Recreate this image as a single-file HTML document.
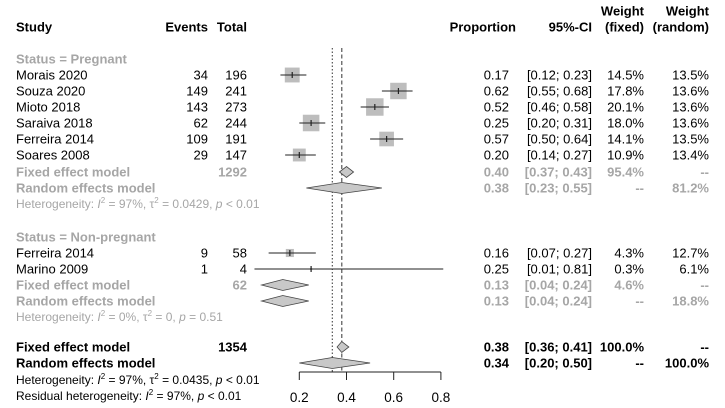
<!DOCTYPE html>
<html><head><meta charset="utf-8"><style>
html,body{margin:0;padding:0;background:#fff}
svg{display:block;font-family:"Liberation Sans",Arial,sans-serif}
</style></head><body>
<svg id="c" width="725" height="408" viewBox="0 0 725 408"></svg>
<script>
const labels=["Morais 2020","Souza 2020","Mioto 2018","Saraiva 2018","Ferreira 2014","Soares 2008","Ferreira 2014","Marino 2009"];
const events=[34,149,143,62,109,29,9,1];
const totals=[196,241,273,244,191,147,58,4];
const props=[0.17,0.62,0.52,0.25,0.57,0.20,0.16,0.25];
const lows=[0.12,0.55,0.46,0.20,0.50,0.14,0.07,0.01];
const highs=[0.23,0.68,0.58,0.31,0.64,0.27,0.27,0.81];
const wFixed=[14.5,17.8,20.1,18.0,14.1,10.9,4.3,0.3];
const wRandom=[13.5,13.6,13.6,13.6,13.5,13.4,12.7,6.1];
const studyRows=[75,91,107,123,139,155,253,269];
const modelLabels=["Fixed effect model","Random effects model","Fixed effect model","Random effects model","Fixed effect model","Random effects model"];
const modelTotals=["1292","","62","","1354",""];
const modelEst=[0.40,0.38,0.13,0.13,0.38,0.34];
const modelLo=[0.37,0.23,0.04,0.04,0.36,0.20];
const modelHi=[0.43,0.55,0.24,0.24,0.41,0.50];
const modelWf=["95.4%","--","4.6%","--","100.0%","--"];
const modelWr=["--","81.2%","--","18.8%","--","100.0%"];
const modelRows=[172,188,285,301,347,363];
const ticks=[0.2,0.4,0.6,0.8];
const fixedOverall=0.38, randomOverall=0.34;

const svg=document.getElementById('c');
const NS="http://www.w3.org/2000/svg";
const X=v=>299.3+(v-0.2)*236;
function el(t,a,txt){const e=document.createElementNS(NS,t);for(const k in a)e.setAttribute(k,a[k]);if(txt!=null)e.textContent=txt;svg.appendChild(e);return e;}
function txt(x,y,s,o){o=o||{};const e=el('text',{x:x,y:y+4.5,'font-size':o.fs||13,fill:o.fill||'#000','font-weight':o.bold?'bold':'normal','text-anchor':o.anchor||'start'},s);return e;}
const G='#a6a6a6';
let h;
h=txt(16,27,"Study",{bold:1});
h=txt(208,27,"Events",{bold:1,anchor:'end'});
h=txt(247,27,"Total",{bold:1,anchor:'end'});
h=txt(516,27,"Proportion",{bold:1,anchor:'end'});
h=txt(592,27,"95%-CI",{bold:1,anchor:'end'});
h=txt(644,11,"Weight",{bold:1,anchor:'end'});
txt(644,27,"(fixed)",{bold:1,anchor:'end'});
h=txt(709,11,"Weight",{bold:1,anchor:'end'});
txt(709,27,"(random)",{bold:1,anchor:'end'});
h=txt(16,59,"Status = Pregnant",{bold:1,fill:G});
h=txt(16,237,"Status = Non-pregnant",{bold:1,fill:G});
let l=el('line',{x1:X(randomOverall),x2:X(randomOverall),y1:48,y2:372,stroke:'#555','stroke-width':1.2,'stroke-dasharray':'1.5,2'});

l=el('line',{x1:X(fixedOverall),x2:X(fixedOverall),y1:48,y2:372,stroke:'#555','stroke-width':1.2,'stroke-dasharray':'4,2.5'});

for(let i=0;i<labels.length;i++){
  const y=studyRows[i];
  let t=txt(16,y,labels[i]);
  txt(208,y,String(events[i]),{anchor:'end'});
  txt(247,y,String(totals[i]),{anchor:'end'});
  txt(509,y,props[i].toFixed(2),{anchor:'end'});
  txt(592,y,"["+lows[i].toFixed(2)+"; "+highs[i].toFixed(2)+"]",{anchor:'end'});
  txt(644,y,wFixed[i].toFixed(1)+"%",{anchor:'end'});
  txt(709,y,wRandom[i].toFixed(1)+"%",{anchor:'end'});
  const s=3.9*Math.sqrt(wFixed[i]);
  let r=el('rect',{x:X(props[i])-s/2,y:y-s/2,width:s,height:s,fill:'#bdbdbd'});
  
  let c=el('line',{x1:X(lows[i]),x2:X(highs[i]),y1:y,y2:y,stroke:'#222','stroke-width':1.1});
  
  el('line',{x1:X(props[i]),x2:X(props[i]),y1:y-3,y2:y+3,stroke:'#222','stroke-width':1.2});
}
for(let i=0;i<modelLabels.length;i++){
  const y=modelRows[i], col=i<4?G:'#000';
  let t=txt(16,y,modelLabels[i],{bold:1,fill:col});
  if(modelTotals[i])txt(247,y,modelTotals[i],{bold:1,fill:col,anchor:'end'});
  txt(509,y,modelEst[i].toFixed(2),{bold:1,fill:col,anchor:'end'});
  txt(592,y,"["+modelLo[i].toFixed(2)+"; "+modelHi[i].toFixed(2)+"]",{bold:1,fill:col,anchor:'end'});
  txt(644,y,modelWf[i],{bold:1,fill:col,anchor:'end'});
  txt(709,y,modelWr[i],{bold:1,fill:col,anchor:'end'});
  const hh=5.5;
  let d=el('polygon',{points:`${X(modelLo[i])},${y} ${X(modelEst[i])},${y-hh} ${X(modelHi[i])},${y} ${X(modelEst[i])},${y+hh}`,fill:'#c8c8c8',stroke:'#444','stroke-width':0.8});
  
}
function het(y,parts,fill){
  const t=el('text',{x:16,y:y+4,'font-size':12,fill:fill});
  
  parts.forEach(p=>{const s=document.createElementNS(NS,'tspan');if(p[1]==='i')s.setAttribute('font-style','italic');if(p[1]==='sup'){s.setAttribute('dy','-5');s.setAttribute('font-size','8');}if(p[1]==='down')s.setAttribute('dy','5');s.textContent=p[0];t.appendChild(s);});
}
het(204,[["Heterogeneity: "],["I","i"],["2","sup"],[" = 97%, τ","down"],["2","sup"],[" = 0.0429, ","down"],["p","i"],[" < 0.01"]],G);
het(317,[["Heterogeneity: "],["I","i"],["2","sup"],[" = 0%, τ","down"],["2","sup"],[" = 0, ","down"],["p","i"],[" = 0.51"]],G);
het(380,[["Heterogeneity: "],["I","i"],["2","sup"],[" = 97%, τ","down"],["2","sup"],[" = 0.0435, ","down"],["p","i"],[" < 0.01"]],'#000');
het(396,[["Residual heterogeneity: "],["I","i"],["2","sup"],[" = 97%, ","down"],["p","i"],[" < 0.01"]],'#000');
let ax=el('line',{x1:X(ticks[0]),x2:X(ticks[ticks.length-1]),y1:372,y2:372,stroke:'#222','stroke-width':1});

ticks.forEach(v=>{
  el('line',{x1:X(v),x2:X(v),y1:372,y2:380,stroke:'#222','stroke-width':1});
  const t=el('text',{x:X(v),y:402,'font-size':13.5,'text-anchor':'middle',fill:'#000'},v.toFixed(1));
  
});
</script>
</body></html>
